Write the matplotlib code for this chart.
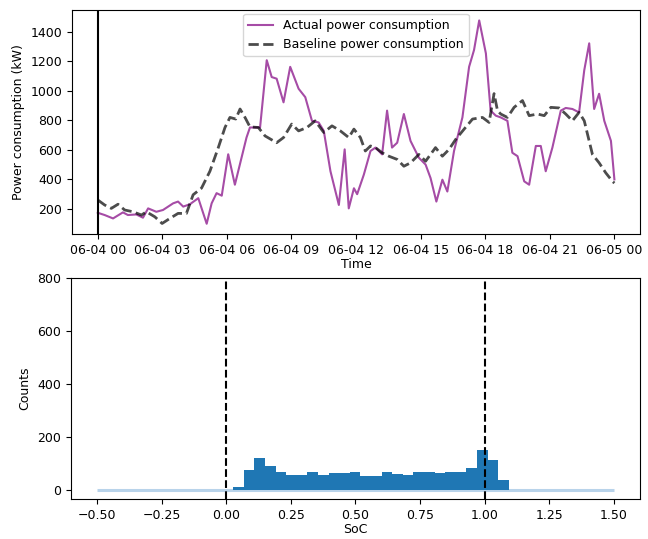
"""Power consumption vs baseline, plus SoC histogram."""

import matplotlib
matplotlib.use("Agg")
import matplotlib.pyplot as plt
import matplotlib.dates as mdates
import numpy as np
import pandas as pd

plt.rcParams["font.size"] = 9

# --- top panel (hours after 06-04 00:00, kW)
actual_hours = [0, 0.09, 0.32, 0.71, 1.17, 1.4, 1.79, 2.1, 2.34, 2.72, 3.03, 3.5,
                3.73, 3.97, 4.28, 4.67, 5.06, 5.29, 5.52, 5.76, 6.06, 6.37, 6.91,
                7.07, 7.54, 7.85, 8.08, 8.31, 8.63, 8.94, 9.33, 9.64, 9.95, 10.26,
                10.5, 10.81, 11.2, 11.47, 11.66, 11.9, 12.05, 12.36, 12.67, 12.9,
                13.21, 13.44, 13.67, 13.91, 14.22, 14.53, 14.92, 15.23, 15.46,
                15.73, 16.01, 16.24, 16.55, 16.94, 17.25, 17.48, 17.72, 18.03,
                18.25, 18.49, 18.72, 19.03, 19.26, 19.5, 19.81, 20.04, 20.35,
                20.58, 20.81, 21.12, 21.51, 21.74, 22.05, 22.36, 22.6, 22.83,
                23.06, 23.29, 23.53, 23.84, 24.0]
actual_kw = [175, 170, 159, 136, 177, 159, 163, 141, 204, 181, 193, 238,
             250, 216, 232, 273, 100, 238, 307, 290, 570, 364, 683,
             751, 751, 1206, 1092, 1081, 921, 1161, 1013, 956, 796, 785,
             728, 455, 227, 603, 204, 340, 300, 432, 592, 615,
             569, 865, 615, 648, 842, 660, 546, 500, 409,
             250, 398, 318, 592, 819, 1161, 1275, 1475, 1252,
             865, 831, 819, 796, 580, 557, 387, 364, 626,
             626, 455, 615, 865, 883, 876, 853, 1138, 1320,
             876, 979, 796, 660, 400]

baseline_hours = [0, 0.32, 0.63, 0.94, 1.25, 1.64, 2.03, 2.26, 2.65, 2.99, 3.35,
                  3.73, 4.12, 4.43, 4.82, 5.21, 5.6, 5.91, 6.14, 6.41, 6.61, 6.84,
                  7.07, 7.46, 7.77, 8.31, 8.63, 9.01, 9.33, 9.72, 10.1, 10.5,
                  10.88, 11.27, 11.66, 11.9, 12.2, 12.43, 12.67, 12.9, 13.21,
                  13.52, 13.91, 14.22, 14.53, 14.92, 15.23, 15.69, 16.01, 16.32,
                  16.63, 17.02, 17.41, 17.87, 18.18, 18.41, 18.57, 18.72, 19.03,
                  19.34, 19.73, 20.04, 20.43, 20.74, 21.05, 21.43, 21.74, 22.05,
                  22.36, 22.6, 22.98, 23.29, 23.6, 23.91, 24.0]
baseline_kw = [261, 227, 204, 232, 193, 181, 159, 181, 147, 102, 136,
               170, 170, 296, 341, 455, 615, 751, 819, 808, 876, 819,
               755, 751, 694, 648, 683, 774, 728, 751, 796, 717,
               762, 728, 683, 740, 683, 592, 626, 615, 580,
               557, 535, 489, 512, 569, 523, 615, 557, 603,
               671, 740, 808, 819, 785, 980, 865, 842, 819,
               887, 933, 831, 842, 831, 887, 883, 842, 796,
               853, 796, 569, 512, 444, 387, 375]

# --- bottom panel: SoC histogram counts
soc_edges = np.linspace(0.027, 1.093, 27)
soc_counts = [10, 75, 120, 92, 68, 57, 58, 70, 57, 65, 65, 68, 55, 55, 68, 62,
              57, 70, 70, 65, 68, 68, 83, 150, 113, 40]
tail_edges = [-0.5, -0.13, 0.027, 1.093, 1.13, 1.5]
tail_counts = [0, 2, 0, 2, 0]

start = pd.Timestamp("2023-06-04 00:00")
t_actual = start + pd.to_timedelta(actual_hours, unit="h")
t_base = start + pd.to_timedelta(baseline_hours, unit="h")

fig = plt.figure(figsize=(6.48, 5.39), dpi=100)
ax1 = fig.add_axes([0.111, 0.566, 0.877, 0.415])
ax2 = fig.add_axes([0.1096, 0.074, 0.878, 0.41])

ax1.plot(t_actual, actual_kw, color="purple", alpha=0.7, lw=1.5,
         label="Actual power consumption")
ax1.plot(t_base, baseline_kw, color="black", alpha=0.7, lw=2, ls="--",
         label="Baseline power consumption")
ax1.axvline(start, color="black", lw=1.5)
ax1.xaxis.set_major_locator(mdates.HourLocator(byhour=range(0, 24, 3)))
ax1.xaxis.set_major_formatter(mdates.DateFormatter("%m-%d %H"))
ax1.set_xlabel("Time", labelpad=1)
ax1.set_ylabel("Power consumption (kW)")
ax1.legend(loc="upper center", borderaxespad=0.3)

ax2.stairs(tail_counts, tail_edges, color="#b8d3ea", lw=2.2, baseline=None)
ax2.hist(soc_edges[:-1], bins=soc_edges, weights=soc_counts, color="#1f77b4")
ax2.axvline(0, color="black", ls="--", lw=1.5)
ax2.axvline(1, color="black", ls="--", lw=1.5)
ax2.set_xlim(-0.6, 1.6)
ax2.set_ylim(-34, 800)
ax2.set_xticks([-0.5, -0.25, 0, 0.25, 0.5, 0.75, 1.0, 1.25, 1.5])
ax2.set_xlabel("SoC", labelpad=1)
ax2.set_ylabel("Counts")

fig.savefig("out.png", dpi=100)
plt.close(fig)
